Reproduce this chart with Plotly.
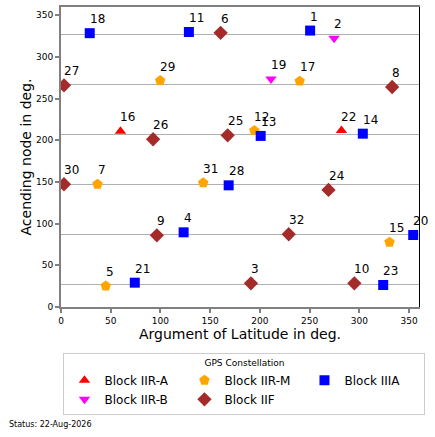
import plotly.graph_objects as go

# GPS constellation snapshot: argument of latitude vs ascending node (deg)
# Block IIR-A
iira_prn = [16, 22]
iira_arg = [59.8, 282.0]
iira_raan = [211.0, 211.7]
# Block IIR-B
iirb_prn = [2, 19]
iirb_arg = [274.6, 211.2]
iirb_raan = [322.5, 273.7]
# Block IIR-M
iirm_prn = [5, 7, 12, 15, 17, 29, 31]
iirm_arg = [45.0, 36.7, 194.4, 330.3, 240.0, 99.7, 143.0]
iirm_raan = [25.2, 147.3, 211.7, 77.7, 271.0, 271.7, 149.0]
# Block IIF
iif_prn = [3, 6, 8, 9, 10, 24, 25, 26, 27, 30, 32]
iif_arg = [191.0, 160.5, 333.0, 96.4, 295.0, 269.0, 167.6, 92.6, 3.0, 3.0, 229.0]
iif_raan = [28.4, 329.0, 264.0, 86.0, 28.4, 140.5, 206.0, 201.3, 266.0, 147.3, 87.3]
# Block IIIA
iiia_prn = [1, 4, 11, 13, 14, 18, 20, 21, 23, 28]
iiia_arg = [250.5, 123.3, 128.6, 200.8, 303.5, 28.9, 354.2, 74.2, 324.0, 168.6]
iiia_raan = [331.7, 89.6, 330.0, 205.3, 208.0, 328.6, 86.4, 29.2, 26.4, 146.0]

# nominal orbital planes (horizontal reference lines)
planes = [27.3, 87.3, 147.3, 207.3, 267.3, 327.3]
ticks = [0, 50, 100, 150, 200, 250, 300, 350]
status = "Status: 22-Aug-2026"

font = "DejaVu Sans"

blocks = [
    ("Block IIR-A", iira_prn, iira_arg, iira_raan, "triangle-up", "red", 10, 1),
    ("Block IIR-B", iirb_prn, iirb_arg, iirb_raan, "triangle-down", "magenta", 10, 4),
    ("Block IIR-M", iirm_prn, iirm_arg, iirm_raan, "pentagon", "orange", 11, 2),
    ("Block IIF", iif_prn, iif_arg, iif_raan, "diamond", "brown", 11, 5),
    ("Block IIIA", iiia_prn, iiia_arg, iiia_raan, "square", "blue", 10, 3),
]

fig = go.Figure()

# invisible trace to carry the plane lines / right spine
fig.add_trace(go.Scatter(x=[None], y=[None], yaxis="y2", showlegend=False,
                         hoverinfo="skip"))

labels = []
for name, prn, arg, raan, sym, col, size, rank in blocks:
    fig.add_trace(go.Scatter(
        x=arg, y=raan, mode="markers", name=name, legendrank=rank,
        marker=dict(symbol=sym, color=col, size=size, line=dict(width=0)),
        cliponaxis=True,
    ))
    # PRN number above right of each marker
    for p, a, r in zip(prn, arg, raan):
        labels.append(dict(
            x=a, y=r, text=str(p), showarrow=False, xanchor="left",
            yanchor="middle", xshift=-2, yshift=14,
            font=dict(size=12, color="black"),
        ))

labels.append(dict(
    text=status, xref="paper", yref="paper", x=-0.152, y=-0.393,
    xanchor="left", yanchor="middle", showarrow=False, font=dict(size=8),
))

fig.update_layout(
    width=435, height=437,
    margin=dict(l=61, r=16, t=7, b=130),
    paper_bgcolor="white", plot_bgcolor="white",
    font=dict(family=font, color="black"),
    xaxis=dict(
        range=[0, 360], tickvals=ticks, showgrid=False, zeroline=False,
        showline=True, linecolor="#808080", linewidth=2, mirror=True,
        ticks="outside", ticklen=4, tickwidth=1.5, tickcolor="#808080",
        tickfont=dict(size=9), automargin=False,
        title=dict(text="Argument of Latitude in deg.", font=dict(size=14), standoff=4),
    ),
    yaxis=dict(
        range=[0, 360], tickvals=ticks, showgrid=False, zeroline=False,
        showline=True, linecolor="#808080", linewidth=2,
        ticks="outside", ticklen=4, tickwidth=1.5, tickcolor="#808080",
        tickfont=dict(size=9), automargin=False,
        title=dict(text="Acending node in deg.", font=dict(size=14), standoff=1),
    ),
    yaxis2=dict(
        range=[0, 360], overlaying="y", side="right", tickvals=planes,
        showticklabels=False, ticks="", showgrid=True, gridcolor="#b0b0b0",
        gridwidth=1, zeroline=False, showline=True, linecolor="black",
        linewidth=1, automargin=False,
    ),
    legend=dict(
        orientation="h", xref="container", yref="container",
        x=0.562, xanchor="center", y=0.192, yanchor="top",
        entrywidth=75, font=dict(size=12), tracegroupgap=0,
        title=dict(text="GPS Constellation", side="top center", font=dict(size=9)),
        bordercolor="#cccccc", borderwidth=1, bgcolor="white",
    ),
    annotations=labels,
)

# drop the browser's default page margin so the figure sits at the corner
fig.write_html("out.html", config={"displayModeBar": False},
               post_script="document.body.style.margin='0';")
